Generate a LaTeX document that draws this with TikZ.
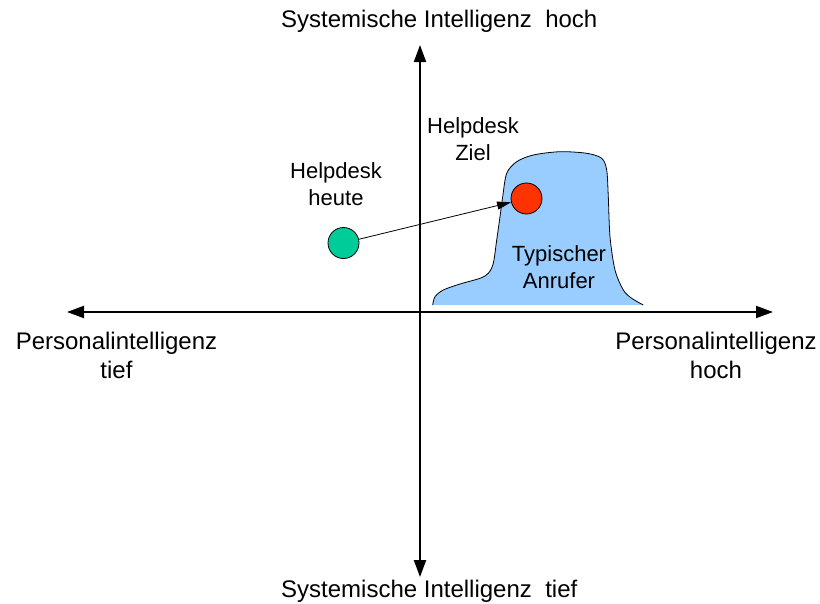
\documentclass[tikz,border=0pt]{standalone}
\usepackage{fontspec}
\setmainfont{Liberation Sans}
\usepackage{tikz}
\usetikzlibrary{arrows.meta, positioning}
\usepackage{xcolor}
\definecolor{heutegreen}{HTML}{00CC99}
\definecolor{zielred}{HTML}{FF3300}
\definecolor{anruferblue}{HTML}{99CCFF}

\begin{document}
\begin{tikzpicture}[x=1pt,y=-1pt,
    axis/.style={line width=2pt,{Triangle[length=17pt,width=12pt]}-{Triangle[length=17pt,width=12pt]}},
    axislabel/.style={inner sep=0pt,align=center,font=\fontsize{24}{29}\selectfont},
    smalllabel/.style={inner sep=0pt,align=center,font=\fontsize{22}{27}\selectfont},
    dot/.style={circle,draw,line width=0.8pt,minimum size=31pt,inner sep=0pt}]
    \useasboundingbox (0,0) rectangle (820,603);

    % the blob of typical callers
    \fill[anruferblue] plot[smooth,tension=0.5] coordinates {(432.7,305) (435,296.7) (443.3,290) (460,284) (480,278.3) (488.3,273.3) (493.3,263.3) (496.7,240) (500,216.7) (502.7,196.7) (506.7,173.3) (516.7,161.7) (533.3,155) (560,151.7) (586.7,153.3) (601.7,158.3) (606.7,170) (608.3,196.7) (610,236.7) (615,270) (623.3,290) (631.7,298.3) (643.3,305)} -- cycle;
    \draw[line width=0.8pt] plot[smooth,tension=0.5] coordinates {(432.7,305) (435,296.7) (443.3,290) (460,284) (480,278.3) (488.3,273.3) (493.3,263.3) (496.7,240) (500,216.7) (502.7,196.7) (506.7,173.3) (516.7,161.7) (533.3,155) (560,151.7) (586.7,153.3) (601.7,158.3) (606.7,170) (608.3,196.7) (610,236.7) (615,270) (623.3,290) (631.7,298.3) (643.3,305)};

    % axes
    \coordinate (sitop) at (420,45);
    \coordinate (sibot) at (420,577);
    \coordinate (pileft) at (67,312);
    \coordinate (piright) at (773,312);
    \draw[axis] (pileft) -- (piright);
    \draw[axis] (sibot) -- (sitop);

    \node[axislabel,anchor=base west] (sihoch) at (281,27) {Systemische Intelligenz~~hoch};
    \node[axislabel,anchor=base west] (sitief) at (281,597) {Systemische Intelligenz~~tief};
    \node[axislabel] (pitief) at (116.5,355) {Personalintelligenz\\tief};
    \node[axislabel] (pihoch) at (716,355) {Personalintelligenz\\hoch};

    % helpdesk today and target
    \node[dot,fill=heutegreen] (heute) at (343.5,243) {};
    \node[dot,fill=zielred] (ziel) at (526.5,198.5) {};
    \draw[line width=0.8pt,-{Triangle[length=14pt,width=8pt]}] (heute) -- (ziel);

    \node[smalllabel] (heutelabel) at (336,184) {Helpdesk\\heute};
    \node[smalllabel] (ziellabel) at (473,139.5) {Helpdesk\\Ziel};
    \node[smalllabel] (anrufer) at (559,267.5) {Typischer\\Anrufer};
\end{tikzpicture}
\end{document}
